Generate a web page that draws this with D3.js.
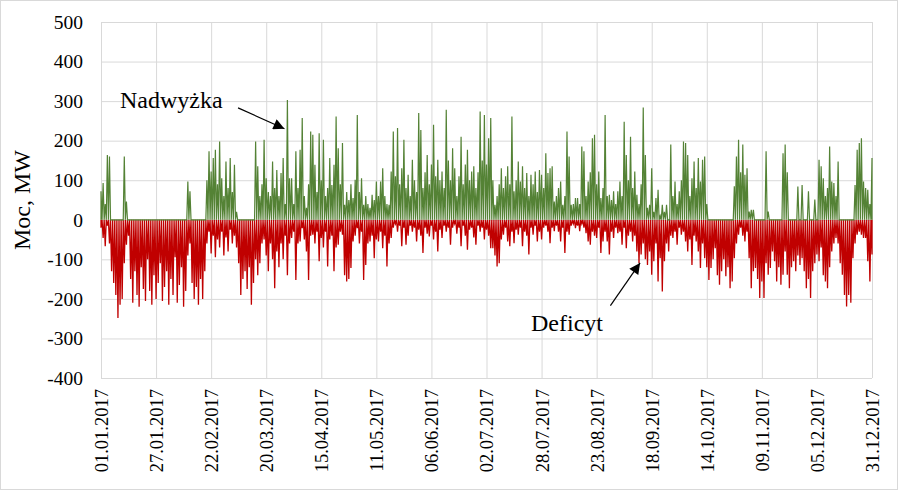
<!DOCTYPE html>
<html>
<head>
<meta charset="utf-8">
<script src="https://cdn.jsdelivr.net/npm/d3@7"></script>
<style>
body { margin: 0; background: #fff; }
svg { display: block; font-family: "Liberation Serif", "Times New Roman", serif; }
</style>
</head>
<body>
<svg id="chart"></svg>
<script>
// daily peak surplus (MW), 01.01.2017 .. 31.12.2017
var surplus = [
  72, 93, 40, 164, 160, 0, 0, 0, 0, 0,
  0, 160, 46, 0, 0, 0, 0, 0, 0, 0,
  0, 0, 0, 0, 0, 0, 0, 0, 0, 0,
  0, 0, 0, 0, 0, 0, 0, 0, 0, 0,
  0, 97, 72, 0, 0, 0, 0, 0, 0, 0,
  100, 173, 122, 156, 177, 90, 198, 105, 60, 147,
  80, 156, 70, 139, 20, 0, 0, 0, 0, 0,
  0, 0, 0, 198, 135, 60, 90, 202, 105, 70,
  60, 147, 80, 126, 60, 118, 156, 40, 303, 105,
  105, 40, 173, 80, 177, 257, 60, 30, 90, 223,
  215, 139, 70, 219, 100, 202, 60, 80, 156, 88,
  139, 261, 181, 90, 194, 38, 70, 50, 90, 55,
  101, 265, 70, 105, 38, 60, 40, 30, 63, 50,
  97, 60, 97, 130, 60, 40, 38, 122, 223, 110,
  232, 90, 130, 202, 80, 114, 60, 152, 100, 70,
  270, 227, 80, 120, 164, 90, 140, 240, 110, 152,
  100, 122, 80, 278, 150, 100, 181, 130, 60, 110,
  210, 90, 140, 177, 100, 122, 135, 80, 120, 274,
  150, 265, 140, 206, 257, 100, 38, 60, 90, 130,
  80, 110, 135, 90, 261, 72, 100, 147, 97, 135,
  80, 118, 60, 114, 90, 122, 70, 126, 114, 80,
  168, 118, 130, 135, 46, 60, 80, 97, 38, 60,
  223, 160, 38, 40, 55, 55, 40, 185, 173, 60,
  97, 120, 206, 215, 90, 122, 55, 80, 265, 60,
  63, 50, 72, 40, 72, 97, 60, 248, 164, 100,
  210, 80, 122, 63, 40, 90, 284, 164, 30, 38,
  130, 20, 55, 76, 10, 38, 20, 38, 0, 190,
  60, 97, 40, 72, 100, 198, 194, 164, 60, 105,
  147, 80, 156, 97, 152, 160, 40, 0, 0, 0,
  0, 0, 0, 0, 0, 0, 0, 0, 0, 85,
  160, 202, 120, 190, 114, 130, 21, 25, 25, 0,
  0, 0, 0, 0, 173, 21, 0, 0, 0, 0,
  0, 0, 168, 190, 120, 0, 0, 0, 0, 84,
  0, 88, 0, 0, 72, 0, 0, 51, 0, 152,
  135, 105, 60, 80, 185, 97, 93, 60, 147, 0,
  0, 0, 0, 0, 0, 0, 88, 177, 194, 206,
  97, 80, 76, 40, 156
];

// daily peak deficit (MW)
var deficit = [
  -20, -46, -67, -15, -60, -130, -160, -190, -248, -215,
  -200, -110, -63, -40, -150, -210, -130, -190, -220, -120,
  -175, -205, -100, -180, -215, -140, -200, -160, -110, -205,
  -170, -130, -215, -150, -190, -95, -210, -165, -120, -220,
  -180, -90, -60, -160, -200, -170, -215, -150, -200, -130,
  -60, -30, -85, -40, -95, -50, -70, -30, -90, -45,
  -80, -25, -60, -40, -70, -110, -190, -150, -130, -175,
  -120, -215, -160, -100, -140, -110, -60, -50, -90, -130,
  -60, -100, -173, -80, -120, -60, -100, -40, -140, -60,
  -46, -30, -152, -60, -55, -21, -50, -80, -152, -40,
  -38, -60, -30, -105, -46, -70, -30, -118, -50, -40,
  -130, -70, -63, -30, -38, -140, -156, -150, -122, -55,
  -40, -21, -60, -30, -152, -114, -60, -55, -40, -97,
  -50, -55, -30, -72, -40, -118, -60, -46, -20, -10,
  -30, -15, -67, -20, -63, -40, -15, -30, -20, -55,
  -25, -40, -84, -20, -35, -42, -15, -50, -30, -80,
  -25, -46, -15, -30, -20, -63, -20, -10, -35, -20,
  -67, -15, -40, -76, -25, -20, -45, -63, -15, -30,
  -20, -50, -25, -40, -72, -72, -90, -118, -110, -50,
  -38, -20, -55, -67, -30, -59, -25, -38, -20, -67,
  -30, -40, -88, -20, -38, -15, -55, -30, -50, -20,
  -15, -30, -59, -20, -29, -15, -30, -55, -20, -84,
  -30, -38, -15, -10, -21, -15, -29, -10, -20, -34,
  -55, -63, -30, -40, -46, -20, -84, -55, -30, -55,
  -88, -30, -46, -20, -34, -30, -63, -20, -72, -40,
  -30, -55, -40, -80, -110, -88, -60, -100, -114, -80,
  -139, -105, -60, -156, -97, -181, -105, -60, -80, -40,
  -46, -30, -63, -20, -38, -30, -55, -80, -50, -114,
  -40, -55, -80, -122, -60, -97, -120, -152, -122, -100,
  -72, -140, -164, -130, -100, -143, -120, -173, -156, -97,
  -60, -38, -20, -40, -55, -30, -97, -173, -130, -122,
  -150, -198, -156, -198, -110, -139, -122, -80, -105, -156,
  -120, -164, -139, -80, -139, -173, -120, -105, -130, -90,
  -114, -97, -130, -173, -150, -198, -130, -110, -88, -105,
  -70, -140, -156, -173, -120, -80, -60, -46, -60, -110,
  -139, -190, -219, -190, -210, -97, -60, -38, -30, -38,
  -46, -46, -105, -156, -88
];

var tickLabels = ['01.01.2017', '27.01.2017', '22.02.2017', '20.03.2017', '15.04.2017',
  '11.05.2017', '06.06.2017', '02.07.2017', '28.07.2017', '23.08.2017', '18.09.2017',
  '14.10.2017', '09.11.2017', '05.12.2017', '31.12.2017'];
var tickDays = tickLabels.map(function(d, i) { return i * 26; });
var yTicks = [-400, -300, -200, -100, 0, 100, 200, 300, 400, 500];

var width = 898,
    height = 490;
var plot = {left: 101, right: 872, top: 22, bottom: 378};

var svg = d3.select('#chart').attr('width', width).attr('height', height);
svg.append('rect')
  .attr('x', 0.5).attr('y', 0.5)
  .attr('width', width - 1).attr('height', height - 1)
  .attr('fill', 'white')
  .attr('stroke', '#d9d9d9');

var x = d3.scaleLinear().domain([0, 364]).range([plot.left, plot.right]);
var y = d3.scaleLinear().domain([-400, 500]).range([plot.bottom, plot.top]);

// y axis + horizontal grid (plain hyphen for negatives, like the original)
var yAxis = svg.append('g')
  .attr('transform', 'translate(' + plot.left + ',0)')
  .call(d3.axisLeft(y).tickValues(yTicks).tickSize(-(plot.right - plot.left)).tickPadding(18)
    .tickFormat(function(d) { return String(d); }));
yAxis.select('.domain').remove();
yAxis.selectAll('line').attr('stroke', '#d9d9d9');
yAxis.selectAll('text')
  .attr('font-family', '"Liberation Serif", serif')
  .attr('font-size', 19.5)
  .attr('fill', '#000');

// x axis + vertical grid
var xAxis = svg.append('g')
  .attr('transform', 'translate(0,' + plot.bottom + ')')
  .call(d3.axisBottom(x).tickValues(tickDays).tickSize(-(plot.bottom - plot.top))
    .tickFormat(function(d, i) { return tickLabels[i]; }));
xAxis.select('.domain').remove();
xAxis.selectAll('line').attr('stroke', '#d9d9d9');
xAxis.selectAll('text')
  .attr('font-family', '"Liberation Serif", serif')
  .attr('font-size', 18.5)
  .attr('fill', '#000')
  .attr('transform', 'rotate(-90)')
  .attr('text-anchor', 'end')
  .attr('x', -11)
  .attr('y', 0)
  .attr('dy', '0.35em');

// series: every day drawn as a spike from zero to its peak
function spikes(vals) {
  var pts = [];
  vals.forEach(function(v, i) {
    pts.push([Math.max(0, i - 0.5), 0], [i, v], [Math.min(364, i + 0.5), 0]);
  });
  return pts;
}
var line = d3.line()
  .x(function(d) { return x(d[0]); })
  .y(function(d) { return y(d[1]); });

svg.append('path')
  .attr('d', line(spikes(deficit)))
  .attr('fill', 'none')
  .attr('stroke', '#c00000')
  .attr('stroke-width', 1.3)
  .attr('stroke-linejoin', 'miter');

svg.append('path')
  .attr('d', line(spikes(surplus)))
  .attr('fill', 'none')
  .attr('stroke', '#548235')
  .attr('stroke-width', 1.2);

// axis title
svg.append('text')
  .attr('transform', 'translate(30,' + ((plot.top + plot.bottom) / 2) + ') rotate(-90)')
  .attr('text-anchor', 'middle')
  .attr('font-size', 24)
  .text('Moc, MW');

// annotations
var defs = svg.append('defs');
defs.append('marker')
  .attr('id', 'head')
  .attr('viewBox', '0 0 10 10')
  .attr('refX', 10).attr('refY', 5)
  .attr('markerWidth', 13).attr('markerHeight', 11)
  .attr('markerUnits', 'userSpaceOnUse')
  .attr('orient', 'auto')
  .append('path')
  .attr('d', 'M0,0L10,5L0,10Z')
  .attr('fill', '#000');

var notes = [
  {text: 'Nadwyżka', tx: 120, ty: 108, from: [64.7, 283], to: [86.6, 230]},
  {text: 'Deficyt', tx: 531, ty: 331, from: [240.5, -217], to: [254.5, -109]}
];
notes.forEach(function(n) {
  svg.append('text')
    .attr('x', n.tx).attr('y', n.ty)
    .attr('font-size', 24)
    .text(n.text);
  svg.append('line')
    .attr('x1', x(n.from[0])).attr('y1', y(n.from[1]))
    .attr('x2', x(n.to[0])).attr('y2', y(n.to[1]))
    .attr('stroke', '#000')
    .attr('stroke-width', 1.2)
    .attr('marker-end', 'url(#head)');
});
</script>
</body>
</html>
